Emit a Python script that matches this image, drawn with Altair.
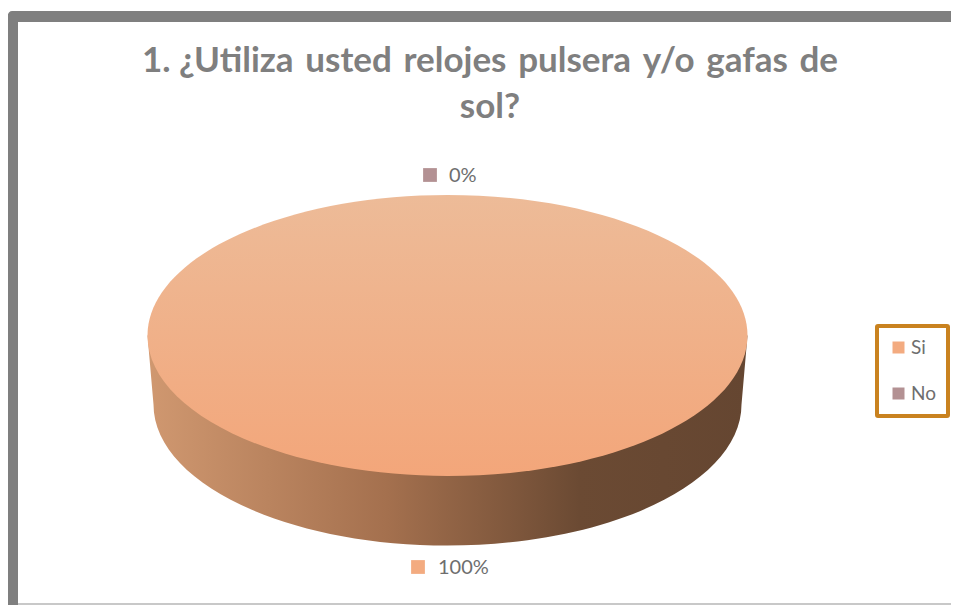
import altair as alt
import pandas as pd

categories = ["Si", "No"]
shares = [100, 0]
labels = ["100%", "0%"]
title_lines = ["1. ¿Utiliza\u2004usted\u2004relojes\u2004pulsera\u2004y/o\u2004gafas\u2004de", "sol?"]
slice_colors = ["#F3AB80", "#B39193"]

df = pd.DataFrame({"categoria": categories, "porcentaje": shares, "etiqueta": labels})
base = alt.Chart(df)

FRAME = "#7F7F7F"
TEXT = "#6E6E6E"
CX, CY = 439.5, 327.5

top_path = "M-1,0 A1,0.4683 0 1 1 1,0 A1,0.4683 0 1 1 -1,0 Z"
wall_path = "M-1,0 L-0.98,0.23 A0.98,0.47 0 0 0 0.98,0.23 L1,0 Z"

wall_fill = alt.Gradient(
    gradient="linear", x1=0, x2=1, y1=0, y2=0,
    stops=[
        alt.GradientStop(color="#D09870", offset=0),
        alt.GradientStop(color="#A4704E", offset=0.4),
        alt.GradientStop(color="#6B4A33", offset=0.72),
        alt.GradientStop(color="#654631", offset=1),
    ],
)
top_fill = alt.Gradient(
    gradient="linear", x1=0, x2=0, y1=0, y2=1,
    stops=[
        alt.GradientStop(color="#EDBB98", offset=0),
        alt.GradientStop(color="#F3A67A", offset=1),
    ],
)

si = base.transform_filter("datum.categoria == 'Si'")
no = base.transform_filter("datum.categoria == 'No'")

wall = si.mark_point(shape=wall_path, filled=True, fill=wall_fill, opacity=1, strokeWidth=0).encode(
    x=alt.value(CX), y=alt.value(CY), size=alt.value(360000))
disc = si.mark_point(shape=top_path, filled=True, fill=top_fill, opacity=1, strokeWidth=0).encode(
    x=alt.value(CX), y=alt.value(CY), size=alt.value(360000))

color = alt.Color(
    "categoria:N",
    scale=alt.Scale(domain=categories, range=slice_colors),
    legend=alt.Legend(
        title=None, orient="none", legendX=869, legendY=318,
        symbolType="square", symbolSize=144, symbolOpacity=1, symbolStrokeWidth=0,
        labelFontSize=19, labelColor=TEXT, labelFont="Lato", labelOffset=3,
        rowPadding=26, padding=12, strokeColor="#C9821F",
    ),
)

sq_si = si.mark_point(shape="square", filled=True, opacity=1, size=190).encode(
    x=alt.value(410), y=alt.value(559), color=color)
sq_no = no.mark_point(shape="square", filled=True, opacity=1, size=190).encode(
    x=alt.value(422), y=alt.value(167), color=color)
txt_si = si.mark_text(align="left", baseline="middle", fontSize=20, font="Lato", color=TEXT).encode(
    x=alt.value(430), y=alt.value(560), text="etiqueta:N")
txt_no = no.mark_text(align="left", baseline="middle", fontSize=20, font="Lato", color=TEXT).encode(
    x=alt.value(441), y=alt.value(168), text="etiqueta:N")

title_style = dict(align="center", baseline="middle", fontSize=35, font="Lato", fontWeight="bold", color="#7F7F7F")
t1 = si.mark_text(text=title_lines[0], **title_style).encode(x=alt.value(482), y=alt.value(53))
t2 = si.mark_text(text=title_lines[1], **title_style).encode(x=alt.value(482), y=alt.value(99))

frame_top = si.mark_rect(color=FRAME, cornerRadiusTopLeft=4).encode(
    x=alt.value(0), x2=alt.value(943), y=alt.value(3), y2=alt.value(14))
frame_left = si.mark_rect(color=FRAME).encode(
    x=alt.value(0), x2=alt.value(10), y=alt.value(6), y2=alt.value(597))
frame_bottom = si.mark_rect(color="#C8C8C8").encode(
    x=alt.value(10), x2=alt.value(943), y=alt.value(595), y2=alt.value(597))

chart = alt.layer(
    frame_top, frame_left, frame_bottom, t1, t2, wall, disc, sq_si, sq_no, txt_si, txt_no
).properties(
    width=943, height=597, padding=0, autosize=alt.AutoSizeParams(type="none"), background="white"
).configure_view(stroke=None).configure_legend(strokeWidth=4, cornerRadius=1)

chart.save("out.html", embed_options={"renderer": "svg", "actions": False})
